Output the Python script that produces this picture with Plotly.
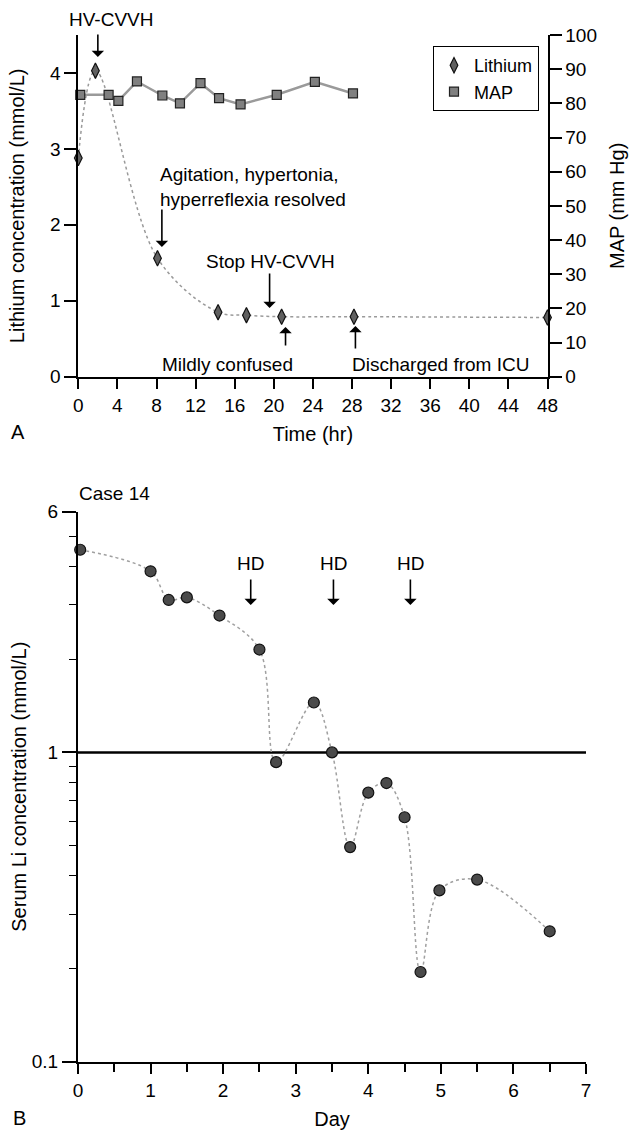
import math
import plotly.graph_objects as go

# ---------------- Data ----------------
# Panel A
li_time_hr = [0, 1.75, 8.1, 14.3, 17.2, 20.8, 28.2, 48]
li_conc = [2.88, 4.03, 1.56, 0.85, 0.81, 0.79, 0.79, 0.78]

map_time_hr = [0.2, 3.1, 4.1, 6.0, 8.6, 10.4, 12.5, 14.4, 16.6, 20.3, 24.2, 28.1]
map_mmhg = [82.5, 82.5, 80.7, 86.4, 82.3, 80.0, 85.9, 81.5, 79.7, 82.5, 86.3, 82.9]

a_xticks = list(range(0, 49, 4))
a_yticks_left = [0, 1, 2, 3, 4]
a_yticks_right = list(range(0, 101, 10))

# Panel B
day = [0.03, 1.0, 1.25, 1.5, 1.95, 2.5, 2.73, 3.25, 3.5, 3.75, 4.0, 4.25, 4.5, 4.72, 4.98, 5.5, 6.5]
serum_li = [4.52, 3.85, 3.11, 3.17, 2.77, 2.15, 0.93, 1.45, 1.0, 0.494, 0.741, 0.796, 0.617, 0.195, 0.358, 0.388, 0.264]
hd_days = [2.38, 3.52, 4.58]
b_major_y = [0.1, 1, 6]
b_minor_y = [0.2, 0.3, 0.4, 0.5, 0.6, 0.7, 0.8, 0.9, 2, 3, 4, 5]
ref_level = 1

W, H = 640, 1131
FONT = "Liberation Sans, Arial, Helvetica, sans-serif"
FS = 19


def px(x):
    return x / W


def py(y):
    return 1 - y / H


fig = go.Figure()

# Panel A traces
fig.add_trace(go.Scatter(
    x=li_time_hr, y=li_conc, xaxis="x", yaxis="y", mode="lines+markers",
    line=dict(color="#9a9a9a", width=1.5, dash="dot", shape="spline"),
    marker=dict(symbol="diamond-tall", size=11, color="#606060",
                line=dict(color="#111", width=1.2)),
    cliponaxis=False, showlegend=False, name="Lithium"))
fig.add_trace(go.Scatter(
    x=map_time_hr, y=map_mmhg, xaxis="x", yaxis="y2", mode="lines+markers",
    line=dict(color="#9a9a9a", width=2.5),
    marker=dict(symbol="square", size=9, color="#808080",
                line=dict(color="#222", width=1.2)),
    cliponaxis=False, showlegend=False, name="MAP"))
# legend entries (markers only)
fig.add_trace(go.Scatter(
    x=[None], y=[None], xaxis="x", yaxis="y", mode="markers", name="Lithium",
    marker=dict(symbol="diamond-tall", size=11, color="#606060",
                line=dict(color="#111", width=1.2))))
fig.add_trace(go.Scatter(
    x=[None], y=[None], xaxis="x", yaxis="y", mode="markers", name="MAP",
    marker=dict(symbol="square", size=9, color="#808080",
                line=dict(color="#222", width=1.2))))

# Panel B trace
fig.add_trace(go.Scatter(
    x=day, y=serum_li, xaxis="x2", yaxis="y3", mode="lines+markers",
    line=dict(color="#a0a0a0", width=1.5, dash="dot", shape="spline"),
    marker=dict(symbol="circle", size=11, color="#4a4a4a",
                line=dict(color="#111", width=1.2)),
    cliponaxis=False, showlegend=False, name="Serum Li"))

fig.add_shape(type="line", xref="x2 domain", x0=0, x1=1, yref="y3",
              y0=ref_level, y1=ref_level, line=dict(color="black", width=2.5),
              layer="below")

axis_common = dict(showgrid=False, zeroline=False, showline=True, linecolor="black",
                   linewidth=2, ticks="outside", tickcolor="black", tickwidth=1.5,
                   automargin=False, tickfont=dict(size=FS, color="black"))

fig.update_layout(
    template="none",
    width=W, height=H, margin=dict(l=0, r=0, t=0, b=0, autoexpand=False),
    paper_bgcolor="white", plot_bgcolor="white",
    font=dict(family=FONT, size=FS, color="black"),
    xaxis=dict(domain=[px(78.3), px(547.5)], range=[0, 48], tickvals=a_xticks,
               ticklen=10, anchor="y",
               title=dict(text="Time (hr)", font=dict(size=20), standoff=12),
               **axis_common),
    yaxis=dict(domain=[py(376.7), py(35)], range=[0, 4.5], tickvals=a_yticks_left,
               ticklen=12, anchor="x",
               title=dict(text="Lithium concentration (mmol/L)", font=dict(size=20), standoff=20),
               **axis_common),
    yaxis2=dict(overlaying="y", side="right", range=[0, 100], tickvals=a_yticks_right,
                ticklen=12, anchor="x",
                title=dict(text="MAP (mm Hg)", font=dict(size=20), standoff=14),
                **axis_common),
    xaxis2=dict(domain=[px(78), px(586)], range=[0, 7], tickvals=list(range(0, 8)),
                ticklen=10, anchor="y3",
                minor=dict(tickvals=[0.5, 1.5, 2.5, 3.5, 4.5, 5.5, 6.5], ticklen=8,
                           tickcolor="black", tickwidth=1.5, ticks="outside"),
                title=dict(text="Day", font=dict(size=20), standoff=12),
                **axis_common),
    yaxis3=dict(domain=[py(1061.7), py(511.7)], type="log", range=[-1, math.log10(6)],
                tickvals=b_major_y, ticktext=["0.1", "1", "6"], ticklen=14, anchor="x2",
                minor=dict(tickvals=b_minor_y, ticklen=7, tickcolor="black",
                           tickwidth=1.2, ticks="outside"),
                title=dict(text="Serum Li concentration (mmol/L)", font=dict(size=20), standoff=0),
                **axis_common),
    legend=dict(x=px(433), y=py(46), xanchor="left", yanchor="top",
                bordercolor="black", borderwidth=1, bgcolor="white",
                font=dict(size=18), itemwidth=30, tracegroupgap=0),
)

ann = []


def text(x, y, s, xref="paper", xanchor="center", align="center", size=FS):
    ann.append(dict(x=x, y=y, xref=xref, yref="paper", text=s, showarrow=False,
                    xanchor=xanchor, yanchor="middle", align=align,
                    font=dict(size=size, family=FONT, color="black")))


def arrow(x, ytip_px, ay, xref="x"):
    ann.append(dict(x=x, y=py(ytip_px), xref=xref, yref="paper", text="",
                    showarrow=True, ax=0, ay=ay, arrowhead=1, arrowsize=1.3,
                    arrowwidth=1.6, arrowcolor="black"))


# Panel A annotations
text(px(111), py(20), "HV-CVVH")
arrow(2.0, 57, -24)
text(px(157.5), py(187), "Agitation, hypertonia,<br>hyperreflexia resolved", xanchor="left", align="left")
arrow(8.55, 247, -39)
text(px(270.7), py(261), "Stop HV-CVVH")
arrow(19.57, 308, -36)
text(px(227.8), py(365), "Mildly confused")
arrow(21.2, 327, 20)
text(px(440.3), py(365), "Discharged from ICU")
arrow(28.35, 326, 24)
text(px(18), py(432), "A", size=20)

# Panel B annotations
text(px(114.7), py(493), "Case 14")
for d in hd_days:
    text(d, py(564), "HD", xref="x2")
    arrow(d, 605, -27, xref="x2")
text(px(19), py(1118), "B", size=20)

fig.update_layout(annotations=ann)

fig.write_html("out.html", config={"displayModeBar": False},
               post_script="document.body.style.margin='0';document.body.style.overflow='hidden';")
